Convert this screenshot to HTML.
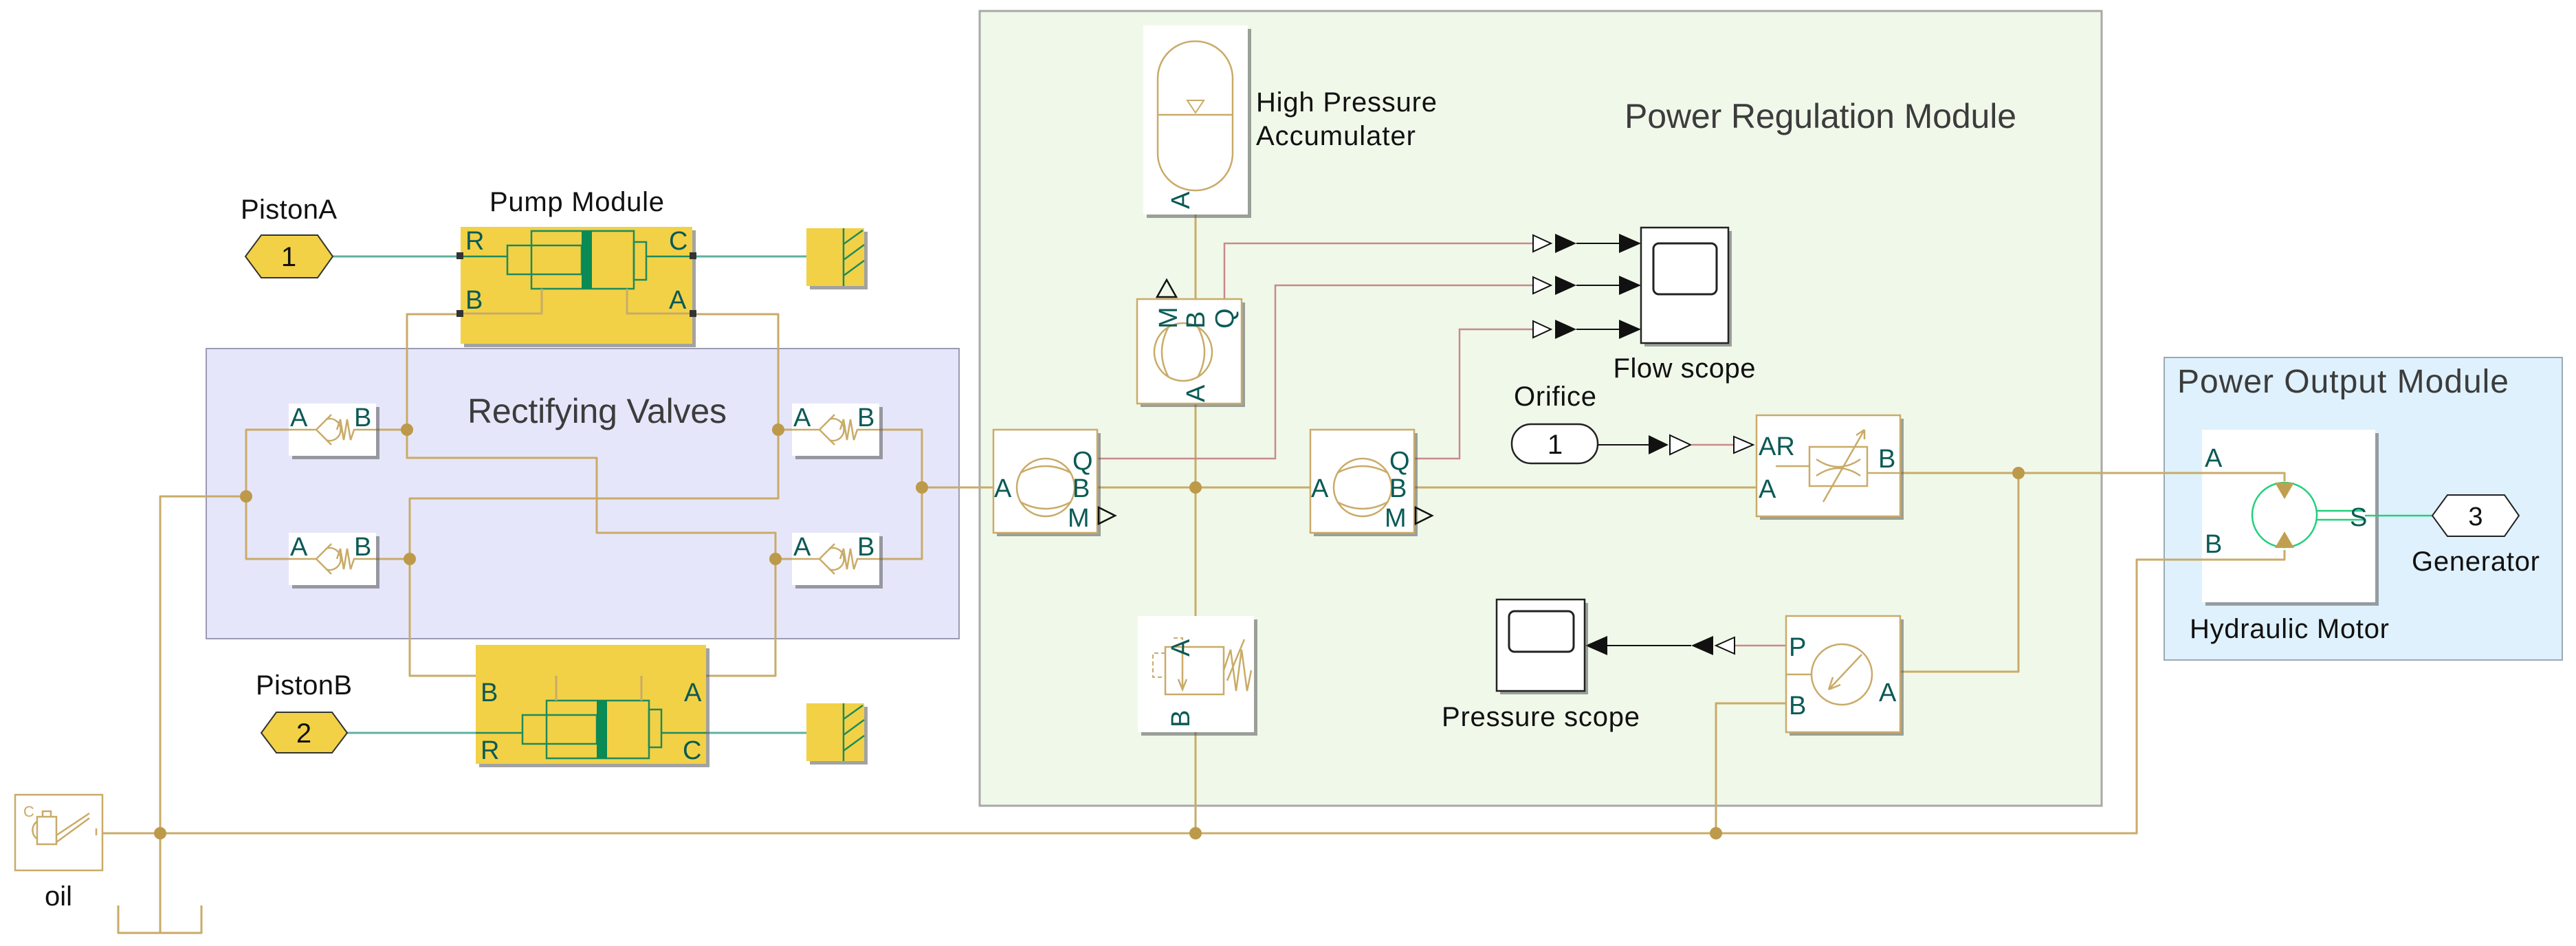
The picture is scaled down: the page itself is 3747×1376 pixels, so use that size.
<!DOCTYPE html>
<html><head><meta charset="utf-8"><style>
html,body{margin:0;padding:0;background:#fff;}
svg{display:block;}
text{font-family:"Liberation Sans",sans-serif;}
.w{fill:none;stroke:#c9ab68;stroke-width:3;stroke-linejoin:round;}
.s{fill:none;stroke:#c98a8a;stroke-width:2.5;}
.d{fill:#bc9a4a;}
.p{fill:#0b5a55;font-size:38px;}
.lb{fill:#111;font-size:40px;}
.sh{fill:#555;opacity:.55;}
.ic{fill:none;stroke:#c9ab68;stroke-width:2.5;}
</style></head><body>
<svg width="3747" height="1376" viewBox="0 0 3747 1376" xmlns="http://www.w3.org/2000/svg">
<rect x="300" y="507" width="1095" height="422" fill="#e6e6fb" stroke="#9a9ab4" stroke-width="2"/>
<text x="680" y="615" font-size="50" fill="#3c3c3c" textLength="377">Rectifying Valves</text>
<rect x="1425" y="16" width="1632" height="1156" fill="#f0f8ea" stroke="#a8a8a8" stroke-width="3"/>
<text x="2363" y="186" font-size="50" fill="#3c3c3c" textLength="570">Power Regulation Module</text>
<rect x="3148" y="520" width="579" height="440" fill="#dff1fc" stroke="#9aaab4" stroke-width="2"/>
<text x="3167" y="571" font-size="48" fill="#3c3c3c" textLength="482">Power Output Module</text>

<polyline class="w" points="420,625 358,625 358,813 420,813"/>
<polyline class="w" points="358,722 233,722 233,1357"/>
<polyline class="w" points="172,1317 172,1357 293,1357 293,1317"/>
<polyline class="w" points="149,1212 3108,1212 3108,814 3323,814 3323,800"/>
<polyline class="w" points="670,457 592,457 592,666 868,666 868,775 1128,775 1128,983 933,983"/>
<polyline class="w" points="547,625 592,625"/>
<polyline class="w" points="1007,457 1132,457 1132,725 596,725 596,983 809,983"/>
<polyline class="w" points="547,813 596,813"/>
<polyline class="w" points="1132,625 1152,625"/>
<polyline class="w" points="1128,813 1152,813"/>
<polyline class="w" points="1279,625 1341,625 1341,813 1279,813"/>
<polyline class="w" points="1341,709 1445,709"/>
<polyline class="w" points="1596,709 1906,709"/>
<polyline class="w" points="2058,709 2555,709"/>
<polyline class="w" points="2764,688 3323,688 3323,700"/>
<polyline class="w" points="2936,688 2936,977 2764,977"/>
<polyline class="w" points="2598,1023 2496,1023 2496,1212"/>
<line class="w" x1="1739" y1="312" x2="1739" y2="1212"/>
<circle class="d" cx="358" cy="722" r="9"/>
<circle class="d" cx="233" cy="1212" r="9"/>
<circle class="d" cx="592" cy="625" r="9"/>
<circle class="d" cx="596" cy="813" r="9"/>
<circle class="d" cx="1132" cy="625" r="9"/>
<circle class="d" cx="1128" cy="813" r="9"/>
<circle class="d" cx="1341" cy="709" r="9"/>
<circle class="d" cx="1739" cy="709" r="9"/>
<circle class="d" cx="1739" cy="1212" r="9"/>
<circle class="d" cx="2496" cy="1212" r="9"/>
<circle class="d" cx="2936" cy="688" r="9"/>

<polyline class="s" points="1781,436 1781,354 2230,354"/>
<polyline class="s" points="1596,667 1855,667 1855,415 2230,415"/>
<polyline class="s" points="2058,667 2123,667 2123,479 2230,479"/>
<polyline class="s" points="2461,647 2522,647"/>
<polyline class="s" points="2598,939 2523,939"/>

<line x1="484" y1="373" x2="670" y2="373" stroke="#5fb0a0" stroke-width="3"/>
<line x1="1007" y1="373" x2="1227" y2="373" stroke="#5fb0a0" stroke-width="3"/>
<line x1="505" y1="1066" x2="692" y2="1066" stroke="#5fb0a0" stroke-width="3"/>
<line x1="1027" y1="1066" x2="1227" y2="1066" stroke="#5fb0a0" stroke-width="3"/>
<polygon points="357,373 380,342 462,342 484,373 462,404 380,404" fill="#f2d146" stroke="#333" stroke-width="2"/>
<text x="420" y="387" font-size="40" text-anchor="middle" fill="#111">1</text>
<text x="420" y="318" class="lb" text-anchor="middle" textLength="140">PistonA</text>
<polygon points="380,1066 402,1036 483,1036 505,1066 483,1095 402,1095" fill="#f2d146" stroke="#333" stroke-width="2"/>
<text x="442" y="1080" font-size="40" text-anchor="middle" fill="#111">2</text>
<text x="442" y="1010" class="lb" text-anchor="middle" textLength="140">PistonB</text>

<text x="839" y="307" class="lb" text-anchor="middle" textLength="254">Pump Module</text>
<rect x="675" y="335" width="337" height="170" class="sh"/>
<rect x="670" y="330" width="337" height="170" fill="#f2d146"/>
<g fill="none" stroke="#1f8a5c" stroke-width="2.5">
<rect x="773" y="336" width="149" height="84"/>
<rect x="738" y="357" width="108" height="42"/>
<rect x="922" y="352" width="18" height="55"/>
<rect x="846" y="336" width="15" height="84" fill="#0a8a55" stroke="none"/>
<polyline points="670,373 738,373"/><polyline points="940,373 1007,373"/>
</g>
<polyline class="w" points="788,420 788,456 670,456"/>
<polyline class="w" points="912,420 912,456 1007,456"/>
<rect x="664" y="367" width="10" height="10" fill="#333"/><rect x="1003" y="367" width="10" height="10" fill="#333"/>
<rect x="664" y="451" width="10" height="10" fill="#333"/><rect x="1003" y="451" width="10" height="10" fill="#333"/>
<text x="677" y="363" class="p">R</text><text x="973" y="363" class="p">C</text>
<text x="677" y="449" class="p">B</text><text x="973" y="449" class="p">A</text>

<rect x="697" y="943" width="335" height="173" class="sh"/>
<rect x="692" y="938" width="335" height="173" fill="#f2d146"/>
<g fill="none" stroke="#1f8a5c" stroke-width="2.5">
<rect x="795" y="1019" width="149" height="84"/>
<rect x="760" y="1040" width="108" height="42"/>
<rect x="944" y="1032" width="18" height="55"/>
<rect x="868" y="1019" width="15" height="84" fill="#0a8a55" stroke="none"/>
<polyline points="692,1066 760,1066"/><polyline points="962,1066 1027,1066"/>
</g>
<polyline class="w" points="809,1019 809,983"/>
<polyline class="w" points="933,1019 933,983"/>
<text x="699" y="1020" class="p">B</text><text x="995" y="1020" class="p">A</text>
<text x="699" y="1104" class="p">R</text><text x="993" y="1104" class="p">C</text>

<rect x="1178" y="337" width="84" height="84" class="sh"/>
<rect x="1173" y="332" width="84" height="84" fill="#f2d146"/>
<g stroke="#1f8a5c" stroke-width="2.5"><line x1="1227" y1="332" x2="1227" y2="416"/><line x1="1227" y1="355" x2="1255" y2="335"/><line x1="1227" y1="378" x2="1257" y2="356"/><line x1="1227" y1="401" x2="1257" y2="379"/></g>
<rect x="1178" y="1028" width="84" height="84" class="sh"/>
<rect x="1173" y="1023" width="84" height="84" fill="#f2d146"/>
<g stroke="#1f8a5c" stroke-width="2.5"><line x1="1227" y1="1023" x2="1227" y2="1107"/><line x1="1227" y1="1046" x2="1255" y2="1026"/><line x1="1227" y1="1069" x2="1257" y2="1047"/><line x1="1227" y1="1092" x2="1257" y2="1070"/></g>

<g id="v1">
<rect x="425" y="592" width="127" height="76" class="sh"/>
<rect x="420" y="587" width="127" height="76" fill="#fff"/>
<text x="422" y="620" class="p" font-size="40">A</text><text x="515" y="620" class="p" font-size="40">B</text>
<line class="ic" x1="420" y1="625" x2="460" y2="625"/>
<path class="ic" d="M460,625 L482,603 M460,625 L482,647"/>
<path class="ic" d="M474,610 A16,16 0 1,1 474,640"/>
<path class="ic" d="M490,625 L495,610 L500,640 L505,610 L510,640 L515,625 L547,625"/>
</g>
<use href="#v1" x="0" y="188"/>
<use href="#v1" x="732" y="0"/>
<use href="#v1" x="732" y="188"/>

<rect x="22" y="1156" width="127" height="110" fill="#fff" stroke="#c9ab68" stroke-width="2.5"/>
<text x="34" y="1188" font-size="22" fill="#c9ab68">C</text>
<rect x="54" y="1188" width="28" height="40" class="ic"/>
<path class="ic" d="M54,1195 A12,14 0 0,0 54,1220 M82,1215 L130,1183 M82,1225 L130,1190 M62,1188 L62,1180 L74,1180 L74,1188"/>
<line class="ic" x1="140" y1="1205" x2="140" y2="1215"/>
<text x="85" y="1317" class="lb" text-anchor="middle">oil</text>

<rect x="1668" y="42" width="152" height="275" class="sh"/>
<rect x="1663" y="37" width="152" height="275" fill="#fff"/>
<rect x="1684" y="60" width="109" height="217" rx="54" class="ic"/>
<line class="ic" x1="1684" y1="167" x2="1793" y2="167"/>
<polygon points="1727,146 1751,146 1739,164" fill="none" stroke="#c9ab68" stroke-width="2"/>
<text transform="translate(1730,304) rotate(-90)" class="p">A</text>
<text x="1827" y="162" class="lb" textLength="263">High Pressure</text>
<text x="1827" y="211" class="lb" textLength="232">Accumulater</text>

<rect x="1659" y="440" width="152" height="152" class="sh"/>
<rect x="1654" y="435" width="152" height="152" fill="#fff" stroke="#c9ab68" stroke-width="2.5"/>
<circle cx="1721" cy="512" r="42" class="ic"/>
<path class="ic" d="M1700,475 Q1680,512 1700,549 M1742,475 Q1762,512 1742,549"/>
<text transform="translate(1712,478) rotate(-90)" class="p">M</text>
<text transform="translate(1752,478) rotate(-90)" class="p">B</text>
<text transform="translate(1794,478) rotate(-90)" class="p">Q</text>
<text transform="translate(1752,585) rotate(-90)" class="p">A</text>
<polygon points="1683,432 1697,407 1711,432" fill="none" stroke="#111" stroke-width="2.5"/>

<g id="fs">
<rect x="1450" y="630" width="151" height="150" class="sh"/>
<rect x="1445" y="625" width="151" height="150" fill="#fff" stroke="#c9ab68" stroke-width="2.5"/>
<circle cx="1521" cy="709" r="42" class="ic"/>
<path class="ic" d="M1484,688 Q1521,668 1558,688 M1484,730 Q1521,750 1558,730"/>
<text x="1446" y="723" class="p">A</text>
<text x="1560" y="683" class="p">Q</text>
<text x="1560" y="723" class="p">B</text>
<text x="1553" y="766" class="p">M</text>
<polygon points="1598,738 1622,750 1598,762" fill="none" stroke="#111" stroke-width="2.5"/>
</g>
<use href="#fs" x="461" y="0"/>

<g id="ar">
<polygon points="2230,342 2256,354 2230,366" fill="#fff" stroke="#111" stroke-width="2"/>
<polygon points="2262,340 2293,354 2262,368" fill="#111"/>
<line x1="2293" y1="354" x2="2357" y2="354" stroke="#111" stroke-width="2"/>
<polygon points="2355,340 2387,354 2355,368" fill="#111"/>
</g>
<use href="#ar" x="0" y="61"/>
<use href="#ar" x="0" y="125"/>
<rect x="2392" y="336" width="127" height="168" class="sh"/>
<rect x="2387" y="331" width="127" height="168" fill="#fff" stroke="#222" stroke-width="2.5"/>
<rect x="2405" y="354" width="92" height="74" rx="8" fill="#fff" stroke="#222" stroke-width="3"/>
<text x="2450" y="549" class="lb" text-anchor="middle" textLength="207">Flow scope</text>

<text x="2262" y="590" class="lb" text-anchor="middle" textLength="120">Orifice</text>
<rect x="2199" y="617" width="125" height="57" rx="28" fill="#fff" stroke="#222" stroke-width="2.5"/>
<text x="2262" y="660" font-size="40" text-anchor="middle" fill="#111">1</text>
<line x1="2324" y1="647" x2="2400" y2="647" stroke="#111" stroke-width="2"/>
<polygon points="2398,633 2427,647 2398,661" fill="#111"/>
<polygon points="2429,633 2459,647 2429,661" fill="#fff" stroke="#111" stroke-width="2"/>
<polygon points="2522,635 2550,647 2522,659" fill="#fff" stroke="#111" stroke-width="2"/>

<rect x="2560" y="609" width="209" height="147" class="sh"/>
<rect x="2555" y="604" width="209" height="147" fill="#fff" stroke="#c9ab68" stroke-width="2.5"/>
<text x="2558" y="662" class="p">AR</text>
<text x="2558" y="724" class="p">A</text>
<text x="2732" y="680" class="p">B</text>
<line class="ic" x1="2583" y1="678" x2="2632" y2="678"/>
<rect x="2632" y="650" width="84" height="57" class="ic"/>
<line class="ic" x1="2716" y1="688" x2="2764" y2="688"/>
<path class="ic" d="M2642,668 Q2674,690 2706,668 M2642,692 Q2674,670 2706,692"/>
<path class="ic" d="M2652,730 L2712,625 M2712,625 L2700,633 M2712,625 L2712,639"/>

<rect x="1660" y="901" width="169" height="169" class="sh"/>
<rect x="1655" y="896" width="169" height="169" fill="#fff"/>
<rect x="1695" y="941" width="85" height="69" class="ic"/>
<path class="ic" d="M1720,941 L1720,1000 M1714,988 L1720,1003 L1726,988"/>
<path fill="none" stroke="#c9ab68" stroke-width="2" stroke-dasharray="6,4" d="M1695,950 L1677,950 L1677,985 L1695,985 M1720,941 L1720,928 L1707,928"/>
<path class="ic" d="M1780,975 L1790,945 L1798,1005 L1806,945 L1814,1005 L1820,975 M1785,990 L1810,930"/>
<text transform="translate(1730,955) rotate(-90)" class="p">A</text>
<text transform="translate(1730,1058) rotate(-90)" class="p">B</text>

<rect x="2603" y="901" width="166" height="169" class="sh"/>
<rect x="2598" y="896" width="166" height="169" fill="#fff" stroke="#c9ab68" stroke-width="2.5"/>
<line class="ic" x1="2598" y1="981" x2="2635" y2="981"/>
<circle cx="2679" cy="981" r="44" class="ic"/>
<path class="ic" d="M2708,952 L2660,1003 M2660,1003 L2666,985 M2660,1003 L2677,996"/>
<text x="2602" y="954" class="p">P</text>
<text x="2602" y="1039" class="p">B</text>
<text x="2733" y="1020" class="p">A</text>
<polygon points="2523,927 2496,939 2523,951" fill="#fff" stroke="#111" stroke-width="2"/>
<polygon points="2492,925 2460,939 2492,953" fill="#111"/>
<line x1="2460" y1="939" x2="2336" y2="939" stroke="#111" stroke-width="2"/>
<polygon points="2338,925 2306,939 2338,953" fill="#111"/>
<rect x="2182" y="877" width="128" height="133" class="sh"/>
<rect x="2177" y="872" width="128" height="133" fill="#fff" stroke="#222" stroke-width="2.5"/>
<rect x="2195" y="889" width="94" height="59" rx="8" fill="#fff" stroke="#222" stroke-width="3"/>
<text x="2241" y="1056" class="lb" text-anchor="middle" textLength="288">Pressure scope</text>

<rect x="3208" y="630" width="252" height="251" class="sh"/>
<rect x="3203" y="625" width="252" height="251" fill="#fff"/>
<polyline class="w" points="3108,814 3323,814 3323,800"/>
<polyline class="w" points="3150,688 3323,688 3323,700"/>
<circle cx="3323" cy="749" r="47" fill="none" stroke="#22d07a" stroke-width="2.5"/>
<polygon points="3309,702 3337,702 3323,726" fill="#c0a050"/>
<polygon points="3309,797 3337,797 3323,773" fill="#c0a050"/>
<line x1="3370" y1="743" x2="3440" y2="743" stroke="#22d07a" stroke-width="2.5"/>
<line x1="3370" y1="756" x2="3440" y2="756" stroke="#22d07a" stroke-width="2.5"/>
<line x1="3440" y1="750" x2="3538" y2="750" stroke="#22d07a" stroke-width="2.5"/>
<text x="3207" y="679" class="p">A</text>
<text x="3207" y="804" class="p">B</text>
<text x="3418" y="765" class="p">S</text>
<polygon points="3538,750 3560,720 3643,720 3664,750 3643,780 3560,780" fill="#fff" stroke="#222" stroke-width="2"/>
<text x="3601" y="764" font-size="38" text-anchor="middle" fill="#111">3</text>
<text x="3601" y="830" class="lb" text-anchor="middle" textLength="186">Generator</text>
<text x="3330" y="928" class="lb" text-anchor="middle" textLength="290">Hydraulic Motor</text>
</svg>
</body></html>
